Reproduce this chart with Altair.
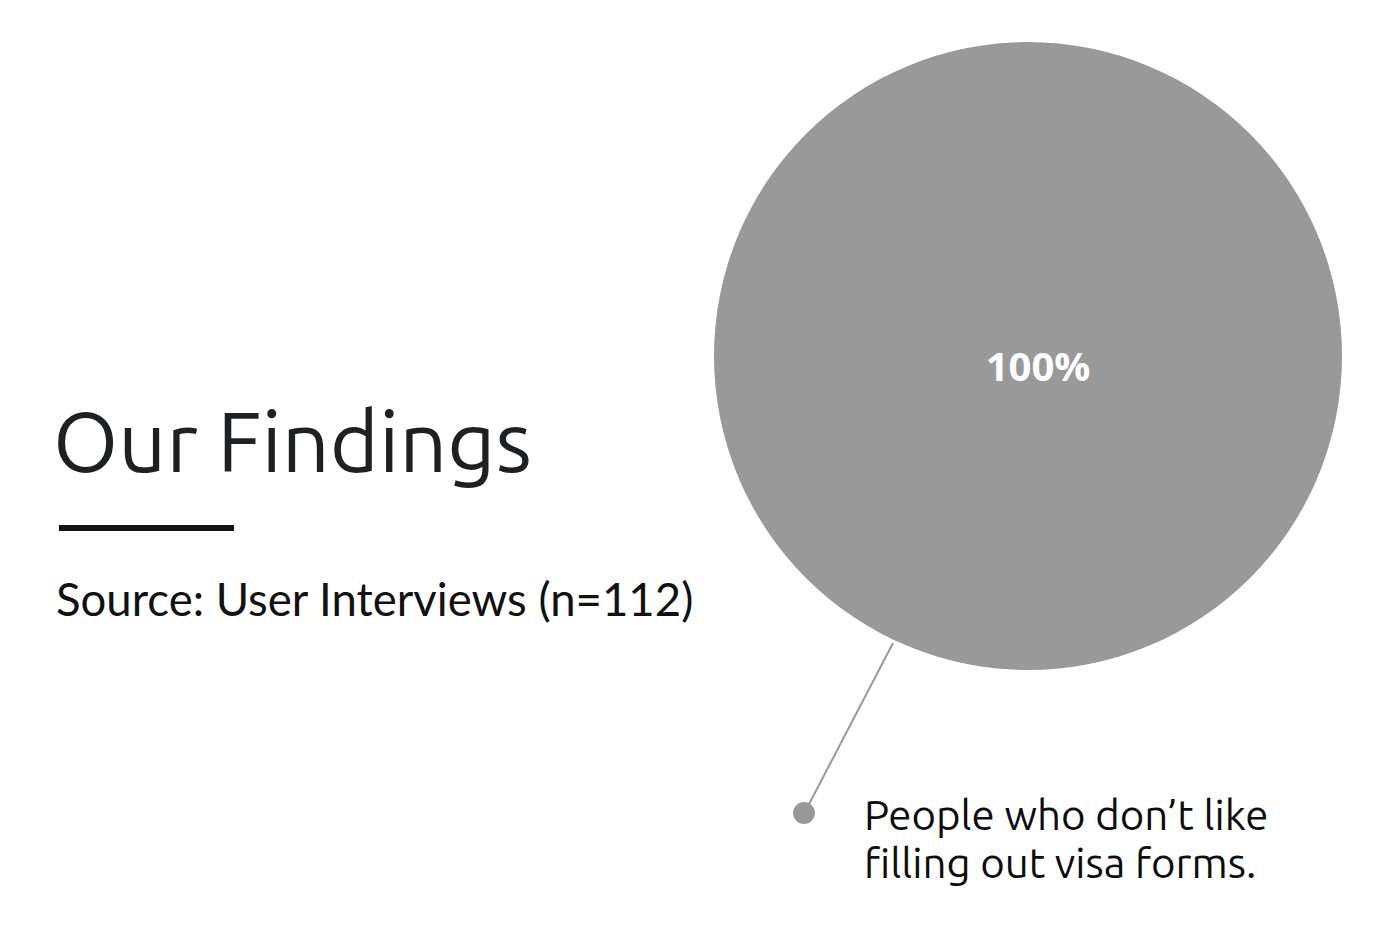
import altair as alt
import pandas as pd

# ---- data ----
categories = ["People who don\u2019t like\nfilling out visa forms."]
shares = [1.0]
title_text = ["Our Findings"]
source_text = ["Source: User Interviews (n=112)"]

df = pd.DataFrame({"category": categories, "share": shares})
title_df = pd.DataFrame({"t": title_text})
source_df = pd.DataFrame({"t": source_text})

GRAY = "#999999"

pie = alt.Chart(df).mark_arc(radius=314, color=GRAY).encode(
    theta=alt.Theta("share:Q", stack=True),
    x=alt.value(1028),
    y=alt.value(356),
)

pct = alt.Chart(df).mark_text(
    font="Open Sans", fontWeight="bold", fontSize=40, color="white",
    align="center", baseline="alphabetic",
).encode(
    text=alt.Text("share:Q", format=".0%"),
    x=alt.value(1038),
    y=alt.value(381),
)

leader = alt.Chart(df).mark_rule(color=GRAY, strokeWidth=2).encode(
    x=alt.value(893), y=alt.value(643), x2=alt.value(806), y2=alt.value(810)
)

dot = alt.Chart(df).mark_point(filled=True, shape="circle", size=480, color=GRAY, opacity=1).encode(
    x=alt.value(804), y=alt.value(813)
)

label = alt.Chart(df).mark_text(
    font="Ubuntu, Open Sans", fontSize=42, color="#0d0d0d",
    align="left", baseline="alphabetic", lineBreak="\n", lineHeight=48,
).encode(
    text="category:N",
    x=alt.value(864),
    y=alt.value(830),
)

title = alt.Chart(title_df).mark_text(
    font="Ubuntu, Open Sans", fontSize=84, color="#1e2124",
    align="left", baseline="alphabetic",
).encode(text="t:N", x=alt.value(53), y=alt.value(472))

underline = alt.Chart(title_df).mark_rule(color="#111111", strokeWidth=6).encode(
    x=alt.value(59), x2=alt.value(234), y=alt.value(528)
)

source = alt.Chart(source_df).mark_text(
    font="Lato", fontSize=45.5, color="#111111",
    align="left", baseline="alphabetic",
).encode(text="t:N", x=alt.value(56), y=alt.value(616))

chart = alt.layer(pie, leader, dot, pct, label, title, underline, source).properties(
    width=1400, height=926, padding=0, autosize=alt.AutoSizeParams(type="none"),
    background="white",
).configure_view(stroke=None)

chart.save("out.html", embed_options={"renderer": "svg", "actions": False})
